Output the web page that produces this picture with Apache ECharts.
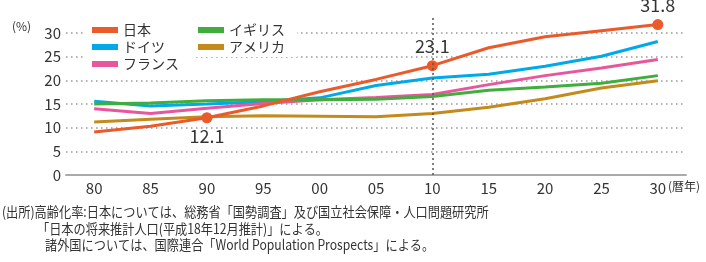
<!DOCTYPE html>
<html>
<head>
<meta charset="utf-8">
<script src="https://cdn.jsdelivr.net/npm/echarts@6/dist/echarts.min.js"></script>
<style>
html, body { margin: 0; padding: 0; background: #fff; }
#main { width: 706px; height: 262px; }
</style>
</head>
<body>
<div id="main"></div>
<script>
var years = ['80', '85', '90', '95', '00', '05', '10', '15', '20', '25', '30'];
var japan = [9.1, 10.3, 12.1, 14.6, 17.6, 20.2, 23.1, 26.9, 29.2, 30.5, 31.8];
var germany = [15.6, 14.6, 15.0, 15.5, 16.3, 18.9, 20.5, 21.3, 23.0, 25.1, 28.2];
var france = [14.0, 13.0, 14.1, 15.1, 15.9, 16.4, 17.0, 19.1, 21.0, 22.6, 24.4];
var uk = [15.0, 15.2, 15.7, 15.9, 15.9, 16.0, 16.6, 17.9, 18.6, 19.4, 21.0];
var usa = [11.2, 11.8, 12.3, 12.5, 12.4, 12.3, 13.0, 14.3, 16.1, 18.4, 19.9];
var yTicks = [0, 5, 10, 15, 20, 25, 30];
// 数値ラベルを付ける年(日本)
var labelYears = { '90': 'bottom', '10': 'top', '30': 'top' };
var notes = [
    '(出所)高齢化率:日本については、総務省「国勢調査」及び国立社会保障・人口問題研究所',
    '「日本の将来推計人口(平成18年12月推計)」による。',
    '諸外国については、国際連合「World Population Prospects」による。'
];

var font = '"Noto Sans CJK JP", "Noto Sans", sans-serif';

var myChart = echarts.init(document.getElementById('main'));

var japanData = japan.map(function (v, i) {
    var pos = labelYears[years[i]];
    if (!pos) return v;
    return {
        value: v,
        symbol: 'circle',
        symbolSize: 11,
        label: { show: true, position: pos, distance: pos === 'bottom' ? 4 : 5 }
    };
});

function line(name, color, data) {
    return {
        name: name,
        type: 'line',
        data: data,
        symbol: 'none',
        silent: true,
        lineStyle: { color: color, width: 3 },
        itemStyle: { color: color }
    };
}

var jp = line('日本', '#ea5a2a', japanData);
jp.label = { color: '#333', fontSize: 18, fontFamily: font };
jp.markLine = {
    silent: true,
    symbol: 'none',
    label: { show: false },
    lineStyle: { color: '#555', width: 1.5, type: [2, 3] },
    data: [{ xAxis: '10' }]
};

function note(text, x, y) {
    return {
        type: 'text', x: x, y: y, scaleX: 0.87,
        style: { text: text, fontSize: 14, fill: '#333', fontFamily: font, verticalAlign: 'middle' }
    };
}

var option = {
    animation: false,
    textStyle: { fontFamily: font },
    grid: { left: 66, right: 20, top: 16, bottom: 87 },
    legend: [
        {
            data: ['日本', 'ドイツ', 'フランス'],
            orient: 'vertical',
            left: 86, top: 20,
            padding: [3, 14, 3, 6],
            backgroundColor: '#fff',
            icon: 'rect', itemWidth: 26, itemHeight: 6, itemGap: 3,
            textStyle: { fontSize: 14, color: '#333', fontFamily: font }
        },
        {
            data: ['イギリス', 'アメリカ'],
            orient: 'vertical',
            left: 192, top: 20,
            padding: [3, 12, 3, 6],
            backgroundColor: '#fff',
            icon: 'rect', itemWidth: 26, itemHeight: 6, itemGap: 3,
            textStyle: { fontSize: 14, color: '#333', fontFamily: font }
        }
    ],
    xAxis: {
        type: 'category',
        data: years,
        boundaryGap: true,
        axisLine: { lineStyle: { color: '#aaa', width: 2 } },
        axisTick: { show: false },
        axisLabel: { color: '#333', fontSize: 15, margin: 6, fontFamily: font }
    },
    yAxis: {
        type: 'value',
        min: 0, max: 33.6, interval: 5,
        axisLine: { show: false },
        axisTick: { show: false },
        axisLabel: {
            color: '#333', fontSize: 15, margin: 5, fontFamily: font, showMaxLabel: false,
            formatter: function (v) { return yTicks.indexOf(v) >= 0 ? String(v) : ''; }
        },
        splitLine: {
            showMinLine: false, showMaxLine: false,
            lineStyle: { color: '#999', width: 1.5, type: [1.5, 3.5] }
        }
    },
    graphic: [
        { type: 'text', left: 12, top: 20, style: { text: '(%)', fontSize: 12, fill: '#333', fontFamily: font } },
        { type: 'text', left: 668, top: 180, style: { text: '(暦年)', fontSize: 12, fill: '#333', fontFamily: font } },
        note(notes[0], 2, 212),
        note(notes[1], 37, 228.5),
        note(notes[2], 45, 245)
    ],
    series: [
        line('ドイツ', '#00a9e8', germany),
        line('フランス', '#e8569c', france),
        line('イギリス', '#3fae3c', uk),
        line('アメリカ', '#c48a1c', usa),
        jp
    ]
};

myChart.setOption(option);
</script>
</body>
</html>
